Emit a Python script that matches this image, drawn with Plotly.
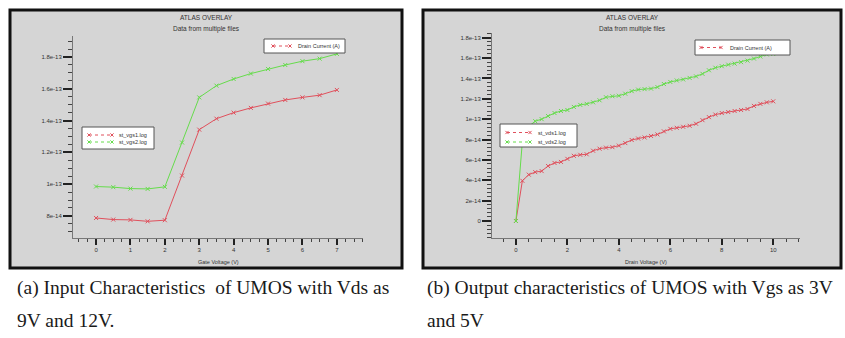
import plotly.graph_objects as go

W, H = 845, 338
SCALE = 1e-14  # values below are given in units of 1e-14 A

# ---------------- Panel (a): input characteristics ----------------
vgs = [0, 0.5, 1, 1.5, 2, 2.5, 3, 3.5, 4, 4.5, 5, 5.5, 6, 6.5, 7]
id_vgs1 = [7.87, 7.77, 7.75, 7.66, 7.73, 10.54, 13.43, 14.12, 14.5, 14.8, 15.07, 15.3, 15.46, 15.6, 15.93]
id_vgs2 = [9.85, 9.81, 9.72, 9.70, 9.83, 12.62, 15.46, 16.2, 16.62, 16.96, 17.25, 17.5, 17.74, 17.9, 18.2]
a_names = ["st_vgs1.log", "st_vgs2.log"]
a_yticks = [8, 10, 12, 14, 16, 18]
a_yticktext = ["8e-14", "1e-13", "1.2e-13", "1.4e-13", "1.6e-13", "1.8e-13"]
a_xticks = [0, 1, 2, 3, 4, 5, 6, 7]

# ---------------- Panel (b): output characteristics ----------------
vds = [0, 0.25, 0.5, 0.75, 1, 1.25, 1.5, 1.75, 2, 2.25, 2.5, 2.75, 3, 3.25, 3.5, 3.75,
       4, 4.25, 4.5, 4.75, 5, 5.25, 5.5, 5.75, 6, 6.25, 6.5, 6.75, 7, 7.25, 7.5, 7.75,
       8, 8.25, 8.5, 8.75, 9, 9.25, 9.5, 9.75, 10]
id_vds1 = [0, 3.95, 4.55, 4.8, 4.9, 5.4, 5.7, 5.8, 6.1, 6.4, 6.5, 6.55, 6.9, 7.1, 7.2, 7.25,
           7.4, 7.65, 7.95, 8.1, 8.2, 8.35, 8.5, 8.8, 9.05, 9.15, 9.25, 9.35, 9.55, 9.9, 10.2,
           10.45, 10.6, 10.7, 10.8, 10.9, 11.0, 11.3, 11.5, 11.65, 11.75]
id_vds2 = [0, 7.8, 9.3, 9.8, 10.0, 10.3, 10.6, 10.8, 10.9, 11.2, 11.4, 11.5, 11.65, 11.85, 12.15,
           12.25, 12.3, 12.5, 12.75, 12.9, 12.95, 13.0, 13.15, 13.45, 13.65, 13.8, 13.9, 14.05,
           14.2, 14.45, 14.8, 15.05, 15.2, 15.35, 15.45, 15.6, 15.75, 15.95, 16.15, 16.35, 16.4]
b_names = ["st_vds1.log", "st_vds2.log"]
b_yticks = [0, 2, 4, 6, 8, 10, 12, 14, 16, 18]
b_yticktext = ["0", "2e-14", "4e-14", "6e-14", "8e-14", "1e-13", "1.2e-13", "1.4e-13", "1.6e-13", "1.8e-13"]
b_xticks = [0, 2, 4, 6, 8, 10]

RED = "#e0505c"
GREEN = "#66dc4c"
TXT = "#333333"
SANS = "Liberation Sans, Arial, sans-serif"
SERIF = "Liberation Serif, Times New Roman, serif"


def px(x):
    return x / W


def py(y):
    return 1 - y / H


fig = go.Figure()

for xs, ys, color, name, ax in [
    (vgs, id_vgs1, RED, a_names[0], ("x", "y")),
    (vgs, id_vgs2, GREEN, a_names[1], ("x", "y")),
    (vds, id_vds1, RED, b_names[0], ("x2", "y2")),
    (vds, id_vds2, GREEN, b_names[1], ("x2", "y2")),
]:
    fig.add_trace(go.Scatter(
        x=xs, y=[v * SCALE for v in ys], name=name, xaxis=ax[0], yaxis=ax[1],
        mode="lines+markers", showlegend=False,
        line=dict(color=color, width=1),
        marker=dict(symbol="x-thin", size=4, line=dict(color=color, width=1), color=color),
    ))

tickfont = dict(family=SANS, size=6, color=TXT)


def xaxis_cfg(domain, rng, ticks, minor, anchor):
    return dict(domain=domain, range=rng, tickmode="array", tickvals=ticks,
                ticks="outside", ticklen=6, tickwidth=2, tickcolor="#222",
                minor=dict(dtick=minor, tick0=0, ticks="outside", ticklen=3, tickwidth=1, tickcolor="#444"),
                showline=True, linecolor="#777", linewidth=1, showgrid=False, zeroline=False,
                tickfont=tickfont, anchor=anchor, fixedrange=True)


def yaxis_cfg(domain, rng, ticks, text, minor, anchor):
    return dict(domain=domain, range=rng, tickmode="array", tickvals=[t * SCALE for t in ticks],
                ticktext=text, ticks="outside", ticklen=9, tickwidth=2, tickcolor="#222",
                minor=dict(dtick=minor, tick0=0, ticks="outside", ticklen=4, tickwidth=1, tickcolor="#444"),
                showline=True, linecolor="#777", linewidth=1, showgrid=False, zeroline=False,
                tickfont=tickfont, anchor=anchor, fixedrange=True)


fig.update_layout(
    width=W, height=H, autosize=False,
    margin=dict(l=0, r=0, t=0, b=0),
    paper_bgcolor="white", plot_bgcolor="white",
    showlegend=False,
    xaxis=xaxis_cfg([px(73), px(363)], [-0.67, 7.76], a_xticks, 0.25, "y"),
    yaxis=yaxis_cfg([py(238), py(36)], [6.61e-14, 1.9325e-13], a_yticks, a_yticktext, 5e-15, "x"),
    xaxis2=xaxis_cfg([px(492), px(800)], [-0.93, 11.04], b_xticks, 0.5, "y2"),
    yaxis2=yaxis_cfg([py(238), py(33)], [-1.67e-14, 1.846e-13], b_yticks, b_yticktext, 4e-15, "x2"),
)

shapes = []
annotations = []

# gray ATLAS frames
for (x0, y0, x1, y1) in [(10, 10, 402, 268), (423, 10, 841, 268)]:
    shapes.append(dict(type="rect", xref="paper", yref="paper", layer="below",
                       x0=px(x0), x1=px(x1), y0=py(y1), y1=py(y0),
                       fillcolor="#d5d5d5", line=dict(color="#111111", width=3)))


def cross(x, y, color, s=1.6):
    return dict(type="path", xref="paper", yref="paper",
                path=f"M {px(x-s)},{py(y-s)} L {px(x+s)},{py(y+s)} M {px(x-s)},{py(y+s)} L {px(x+s)},{py(y-s)}",
                line=dict(color=color, width=1))


def legend_box(x0, y0, x1, y1):
    shapes.append(dict(type="rect", xref="paper", yref="paper", layer="above",
                       x0=px(x0), x1=px(x1), y0=py(y1), y1=py(y0),
                       fillcolor="white", line=dict(color="#555555", width=1)))


def legend_entry(x0, x1, y, color, text, tx):
    shapes.append(dict(type="line", xref="paper", yref="paper",
                       x0=px(x0), x1=px(x1), y0=py(y), y1=py(y),
                       line=dict(color=color, width=1, dash="dot")))
    shapes.append(cross(x0, y, color))
    shapes.append(cross(x1, y, color))
    annotations.append(dict(xref="paper", yref="paper", x=px(tx), y=py(y), text=text,
                            showarrow=False, xanchor="left", yanchor="middle",
                            font=dict(family=SANS, size=5.5, color=TXT)))


# panel (a) legends
legend_box(82, 127, 154, 149)
legend_entry(89, 112, 135, RED, a_names[0], 117)
legend_entry(89, 112, 142, GREEN, a_names[1], 117)
legend_box(264, 39, 345, 53)
legend_entry(273, 290, 46, RED, "Drain Current (A)", 296)

# panel (b) legends
legend_box(500, 124, 577, 147)
legend_entry(507, 530, 132.5, RED, b_names[0], 536)
legend_entry(507, 530, 142, GREEN, b_names[1], 536)
legend_box(695, 40, 790, 55)
legend_entry(701, 721, 47.5, RED, "Drain Current (A)", 728)

# titles and axis titles
for cx, pcx, xtitle in [(206, 218, "Gate Voltage (V)"), (632, 646, "Drain Voltage (V)")]:
    annotations.append(dict(xref="paper", yref="paper", x=px(cx), y=py(17), text="ATLAS OVERLAY",
                            showarrow=False, xanchor="center", yanchor="middle",
                            font=dict(family=SANS, size=6.5, color=TXT)))
    annotations.append(dict(xref="paper", yref="paper", x=px(cx), y=py(29), text="Data from multiple files",
                            showarrow=False, xanchor="center", yanchor="middle",
                            font=dict(family=SANS, size=6.5, color=TXT)))
    annotations.append(dict(xref="paper", yref="paper", x=px(pcx), y=py(262), text=xtitle,
                            showarrow=False, xanchor="center", yanchor="middle",
                            font=dict(family=SANS, size=5.5, color=TXT)))

# captions
captions = [
    (15, 288, "(a) Input Characteristics  of UMOS with Vds as"),
    (15, 320, "9V and 12V."),
    (425, 288, "(b) Output characteristics of UMOS with Vgs as 3V"),
    (425, 320, "and 5V"),
]
for x, y, t in captions:
    annotations.append(dict(xref="paper", yref="paper", x=px(x), y=py(y), text=t,
                            showarrow=False, xanchor="left", yanchor="middle",
                            font=dict(family=SERIF, size=19.5, color="#1a1a1a")))

fig.update_layout(shapes=shapes, annotations=annotations)
fig.write_html(
    "out.html",
    config={"displayModeBar": False},
    post_script="document.body.style.margin='0';document.body.style.overflow='hidden';",
)
